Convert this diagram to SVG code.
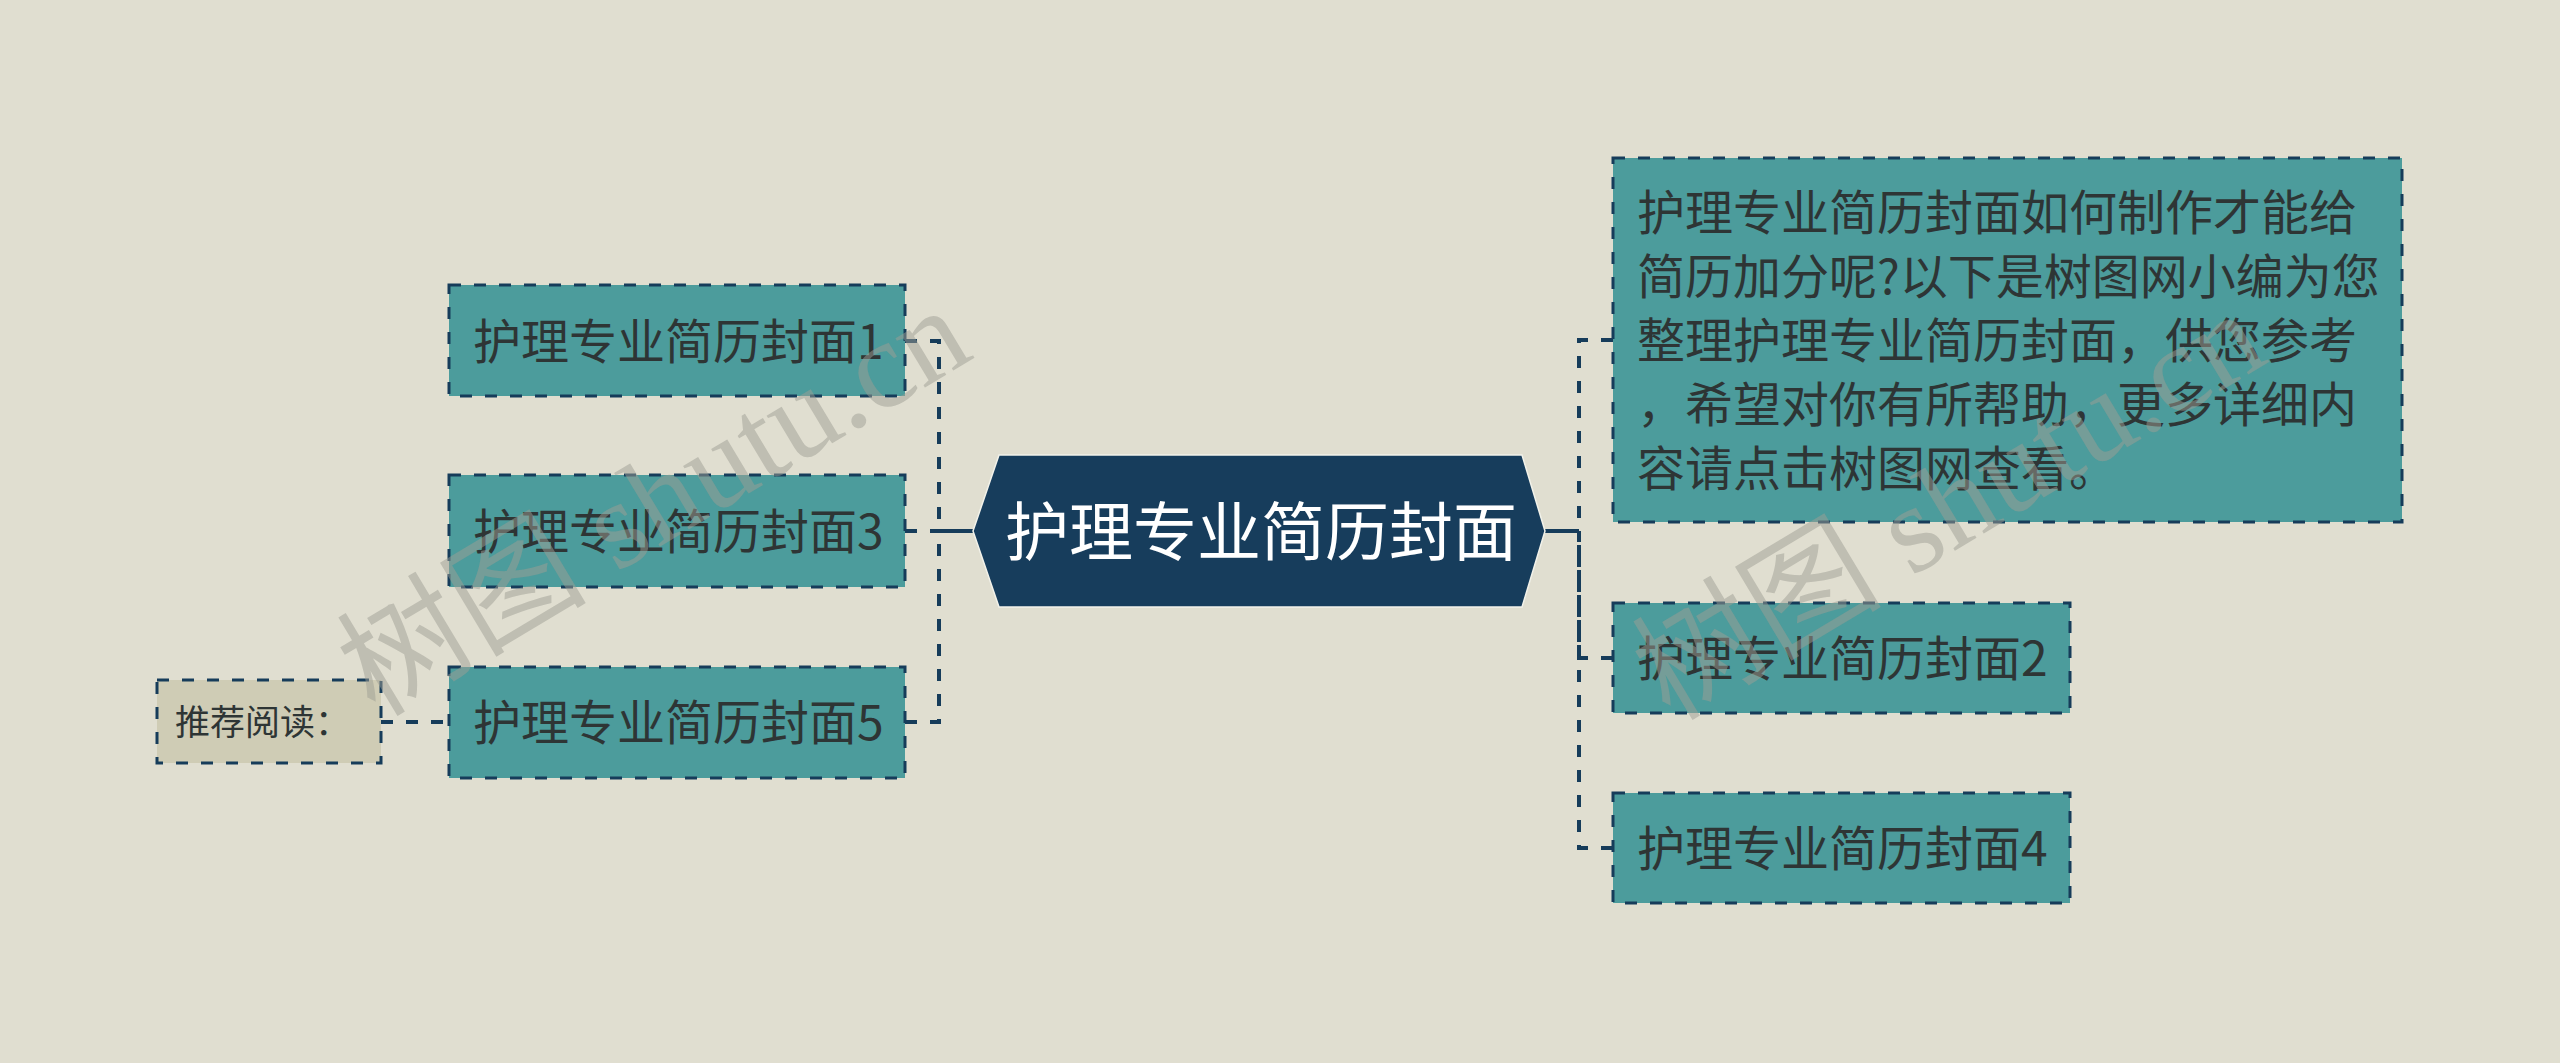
<svg xmlns="http://www.w3.org/2000/svg" width="2560" height="1063" viewBox="0 0 2560 1063">
<defs>
<style>
.bg{fill:#e0ded0}
.box{fill:#4c9c9c;stroke:#163c5a;stroke-width:3;stroke-dasharray:12 13}
.rec{fill:#cfccb5;stroke:#163c5a;stroke-width:3;stroke-dasharray:12 13}
.hub{fill:#173d5c;stroke:#f2f2ea;stroke-width:1.5}
.lbl{font-family:"Noto Sans CJK SC","Noto Sans",sans-serif;fill:#2e3535}
.hubt{font-family:"Noto Sans CJK SC","Noto Sans",sans-serif;fill:#ffffff;font-size:64px}
.dash{fill:none;stroke:#163c5a;stroke-width:4;stroke-dasharray:12 13}
.solid{fill:none;stroke:#163c5a;stroke-width:4}
.wm{font-family:"Liberation Serif","Noto Sans CJK SC",serif;font-size:125px;fill:#9e9e94;fill-opacity:0.5}
</style>
</defs>
<rect class="bg" x="0" y="0" width="2560" height="1063"/>

<g id="connectors">
<path class="solid" d="M973,531 H939"/>
<path class="dash" d="M905,341 H939 V531"/>
<path class="dash" d="M905,531 H939"/>
<path class="dash" d="M905,722 H939 V531"/>
<path class="dash" d="M381,722 H449"/>
<path class="solid" d="M1545,531 H1579"/>
<path class="dash" d="M1613,340 H1579 V531"/>
<path class="dash" d="M1613,658 H1579 V531"/>
<path class="dash" d="M1613,848 H1579 V531"/>
</g>

<g id="center">
<polygon class="hub" points="973,531 999,455 1522,455 1545,531 1522,607 999,607"/>
<text class="hubt" x="1005" y="555">护理专业简历封面</text>
</g>

<g id="node1">
<rect class="box" x="449" y="285" width="456" height="111"/>
<text class="lbl" font-size="48" x="473" y="359">护理专业简历封面1</text>
</g>
<g id="node3">
<rect class="box" x="449" y="475" width="456" height="112"/>
<text class="lbl" font-size="48" x="473" y="549">护理专业简历封面3</text>
</g>
<g id="node5">
<rect class="box" x="449" y="667" width="456" height="111"/>
<text class="lbl" font-size="48" x="473" y="740">护理专业简历封面5</text>
</g>
<g id="recommend">
<rect class="rec" x="157" y="680" width="224" height="83"/>
<text class="lbl" font-size="35" x="175" y="735">推荐阅读：</text>
</g>

<g id="desc">
<rect class="box" x="1613" y="158" width="789" height="364"/>
<text class="lbl" font-size="48">
<tspan x="1637" y="230">护理专业简历封面如何制作才能给</tspan>
<tspan x="1637" y="294">简历加分呢?以下是树图网小编为您</tspan>
<tspan x="1637" y="358">整理护理专业简历封面，供您参考</tspan>
<tspan x="1637" y="422">，希望对你有所帮助，更多详细内</tspan>
<tspan x="1637" y="486">容请点击树图网查看。</tspan>
</text>
</g>
<g id="node2">
<rect class="box" x="1613" y="603" width="457" height="110"/>
<text class="lbl" font-size="48" x="1637" y="676">护理专业简历封面2</text>
</g>
<g id="node4">
<rect class="box" x="1613" y="793" width="457" height="110"/>
<text class="lbl" font-size="48" x="1637" y="866">护理专业简历封面4</text>
</g>

<g id="watermarks">
<text class="wm" transform="translate(375,718) rotate(-31)">树图 shutu.cn</text>
<text class="wm" transform="translate(1670,722) rotate(-31)">树图 shutu.cn</text>
</g>
</svg>
